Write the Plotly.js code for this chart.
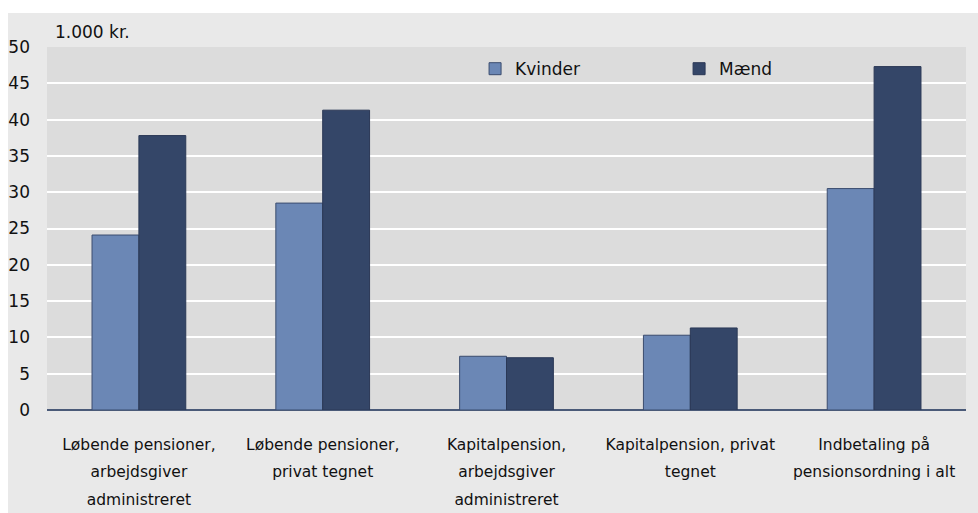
<!DOCTYPE html>
<html><head><meta charset="utf-8">
<script src="https://cdn.plot.ly/plotly-3.0.1.min.js"></script>
<style>html,body{margin:0;padding:0;background:#fff}#chart{width:978px;height:513px}</style>
</head><body><div id="chart"></div>
<script>
const categories = [
  "Løbende pensioner,<br>arbejdsgiver<br>administreret",
  "Løbende pensioner,<br>privat tegnet",
  "Kapitalpension,<br>arbejdsgiver<br>administreret",
  "Kapitalpension, privat<br>tegnet",
  "Indbetaling på<br>pensionsordning i alt"
];
const kvinder = [24.1, 28.5, 7.4, 10.3, 30.5];
const maend = [37.8, 41.3, 7.2, 11.3, 47.3];
const yTicks = [0, 5, 10, 15, 20, 25, 30, 35, 40, 45, 50];

const FONT = '"DejaVu Sans", "Liberation Sans", Arial, sans-serif';

// tick text: glyphs at a smaller size, line spacing from a larger base size
const catTickText = categories.map(c =>
  c.split('<br>').map(l => '<span style="font-size:15.5px">' + l + '</span>').join('<br>'));

const traces = [
  {type:'bar', name:'Kvinder', x:categories, y:kvinder,
   marker:{color:'#6b87b5', line:{color:'#3b4c6e', width:1}}, legend:'legend'},
  {type:'bar', name:'Mænd', x:categories, y:maend,
   marker:{color:'#344668', line:{color:'#2a3856', width:1}}, legend:'legend2'}
];

const layout = {
  width:978, height:513,
  margin:{l:47, r:12, t:47, b:103},
  paper_bgcolor:'#e9e9e9',
  plot_bgcolor:'#dcdcdc',
  font:{family:FONT, size:17, color:'#111'},
  barmode:'group', bargap:0.49, bargroupgap:0,
  showlegend:true,
  legend:{orientation:'h', x:0.4658, xanchor:'left', y:0.939, yanchor:'middle',
          bgcolor:'rgba(0,0,0,0)', font:{family:FONT, size:17}},
  legend2:{orientation:'h', x:0.6878, xanchor:'left', y:0.939, yanchor:'middle',
          bgcolor:'rgba(0,0,0,0)', font:{family:FONT, size:17}},
  xaxis:{type:'category', showgrid:false, ticks:'', ticklabelstandoff:17, tickangle:0,
         tickvals:categories, ticktext:catTickText,
         showline:false, zeroline:false, tickfont:{family:FONT, size:21.5}},
  yaxis:{range:[0,50], tickvals:yTicks, ticktext:yTicks.map(String),
         showgrid:true, gridcolor:'#ffffff', gridwidth:2,
         zeroline:true, zerolinecolor:'#4a5a78', zerolinewidth:1.5,
         showline:false, ticks:'', ticklabelstandoff:16,
         tickfont:{family:FONT, size:17}},
  shapes:[
    {type:'rect', xref:'paper', yref:'paper', x0:-0.1, x1:1.1, y0:1.0937, y1:1.2,
     fillcolor:'#ffffff', line:{width:0}, layer:'above'},
    {type:'rect', xref:'paper', yref:'paper', x0:-0.1, x1:-0.0424, y0:-0.4, y1:1.2,
     fillcolor:'#ffffff', line:{width:0}, layer:'above'}
  ],
  annotations:[
    {text:'1.000 kr.', xref:'paper', yref:'paper', x:0.0065, y:1.0, xanchor:'left', yanchor:'bottom',
     yshift:3, showarrow:false, font:{family:FONT, size:17, color:'#111'}}
  ]
};

Plotly.newPlot('chart', traces, layout, {displayModeBar:false, staticPlot:true});
</script>
</body></html>
